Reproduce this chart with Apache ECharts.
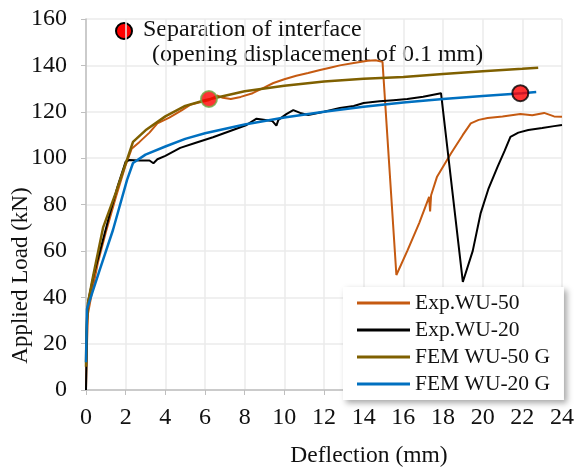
<!DOCTYPE html>
<html>
<head>
<meta charset="utf-8">
<script src="https://cdn.jsdelivr.net/npm/echarts@6/dist/echarts.min.js"></script>
<style>
  html, body { margin: 0; padding: 0; background: #fff; }
  #chart { width: 575px; height: 469px; }
</style>
</head>
<body>
<div id="chart"></div>
<script>
// Exp.WU-50 (orange)
var exp50X = [0, 0.05, 0.1, 0.3, 0.6, 1.0, 1.5, 2.0, 2.3, 2.7, 3.2, 3.6, 4.2, 4.8, 5.25, 5.7, 6.2, 6.6, 6.9, 7.3, 7.8, 8.4, 9.0, 9.45, 10.0, 10.6, 11.2, 11.8, 12.3, 12.8, 13.5, 14.2, 14.6, 14.95, 15.65, 16.2, 16.8, 17.3, 17.35, 17.4, 17.7, 18.4, 19.0, 19.4, 19.8, 20.25, 21.0, 21.9, 22.5, 23.1, 23.6, 24.0]
var exp50Y = [0, 20, 33, 42, 55, 68, 83, 97, 104, 107, 111, 115, 117.5, 120.5, 123, 124, 125, 127, 126, 125.5, 126.4, 128, 130.5, 132.4, 134, 135.5, 136.7, 138, 139, 140, 141, 142, 142.2, 141.5, 49.6, 60, 72, 83.3, 77, 84, 92, 102, 110, 115, 116.5, 117.3, 118, 119, 118.5, 119.5, 118, 117.8]
// Exp.WU-20 (black)
var exp20X = [0, 0.02, 0.05, 0.1, 0.4, 0.8, 1.2, 1.6, 2.0, 2.2, 2.7, 3.2, 3.4, 3.6, 4.0, 4.75, 5.5, 6.4, 7.2, 8.1, 8.6, 9.4, 9.6, 9.7, 10.1, 10.45, 10.8, 11.2, 12.0, 12.8, 13.5, 14.0, 14.8, 15.5, 16.2, 17.0, 17.9, 19.0, 19.5, 19.9, 20.3, 20.75, 21.1, 21.4, 21.8, 22.3, 23.0, 23.6, 24.0]
var exp20Y = [0, 10, 30, 38, 50, 63, 76, 88, 98.5, 99.2, 99, 99, 97.8, 99.5, 101, 104.4, 106.5, 109, 111.5, 114.3, 117, 116, 114, 116.5, 119, 120.7, 119.5, 118.6, 120, 121.6, 122.5, 123.8, 124.5, 125, 125.5, 126.5, 128, 46.6, 60, 76.3, 87, 96.2, 103, 109.2, 111, 112.1, 113, 113.8, 114.3]
// FEM WU-50 G (olive)
var fem50X = [0, 0.02, 0.1, 0.35, 0.86, 1.5, 2.37, 3, 4, 5, 6, 8, 10, 12, 14, 16, 18, 20, 22, 22.8]
var fem50Y = [10, 25, 37.5, 48.7, 70, 85, 107, 112, 118, 122.5, 125, 128.8, 131.2, 133, 134.2, 135, 136.3, 137.5, 138.5, 139]
// FEM WU-20 G (blue)
var fem20X = [0, 0.05, 0.7, 1.36, 2.07, 2.37, 3, 4, 5, 6, 8, 10, 12, 14, 16, 18, 20, 22, 22.7]
var fem20Y = [12, 35, 52, 69, 90.6, 97.9, 101.5, 105, 108.3, 110.7, 114.5, 117.5, 120, 122.2, 124, 125.5, 126.8, 128, 128.5]
// separation of interface points
var sepX = [6.2, 21.9]
var sepY = [125.5, 128]

var seriesNames = ['Exp.WU-50', 'Exp.WU-20', 'FEM WU-50 G', 'FEM WU-20 G']

function zip(xs, ys) {
  return xs.map(function (x, i) { return [x, ys[i]] })
}

var serif = '"Liberation Serif", "Times New Roman", serif'
var chart = echarts.init(document.getElementById('chart'))

chart.setOption({
  animation: false,
  textStyle: { fontFamily: serif },
  grid: { left: 86, right: 13, top: 19, bottom: 79, outerBoundsMode: 'none', containLabel: false },
  legend: {
    left: 343,
    top: 287,
    orient: 'vertical',
    width: 224,
    padding: [5, 14, 5, 14],
    itemWidth: 53,
    itemHeight: 3,
    itemGap: 5,
    backgroundColor: '#fff',
    shadowBlur: 6,
    shadowColor: 'rgba(0,0,0,0.35)',
    shadowOffsetX: 3,
    shadowOffsetY: 3,
    textStyle: { fontFamily: serif, fontSize: 21.5, color: '#111' },
    data: seriesNames.map(function (n) { return { name: n, icon: 'rect' } })
  },
  xAxis: {
    type: 'value',
    min: 0,
    max: 24,
    interval: 2,
    name: 'Deflection (mm)',
    nameLocation: 'middle',
    nameGap: 54,
    nameMoveOverlap: false,
    nameTextStyle: { fontFamily: serif, fontSize: 23.5, color: '#111', padding: [0, 0, 0, 90] },
    axisLine: { lineStyle: { color: '#bfbfbf', width: 1.5 } },
    axisTick: { show: true, length: 5, lineStyle: { color: '#bfbfbf' } },
    axisLabel: { fontFamily: serif, fontSize: 24, color: '#111', margin: 16 },
    splitLine: { show: true, lineStyle: { color: '#ebebeb', width: 1.5 } }
  },
  yAxis: {
    type: 'value',
    min: 0,
    max: 160,
    interval: 20,
    name: 'Applied Load (kN)',
    nameLocation: 'middle',
    nameGap: 54,
    nameMoveOverlap: false,
    nameTextStyle: { fontFamily: serif, fontSize: 23, color: '#111', padding: [0, 142, 0, 0] },
    axisLine: { show: true, lineStyle: { color: '#bfbfbf', width: 1.5 } },
    axisTick: { show: true, length: 5, lineStyle: { color: '#bfbfbf' } },
    axisLabel: { fontFamily: serif, fontSize: 24, color: '#111', margin: 19 },
    splitLine: { show: true, lineStyle: { color: '#ebebeb', width: 1.5 } }
  },
  graphic: [
    {
      type: 'circle',
      shape: { cx: 124, cy: 31, r: 8 },
      style: { fill: '#ff0000', stroke: '#000', lineWidth: 2 }
    },
    {
      type: 'text',
      left: 143,
      top: 18,
      style: { text: 'Separation of interface', font: '24px ' + serif, fill: '#111' }
    },
    {
      type: 'text',
      left: 152,
      top: 43,
      style: { text: '(opening displacement of 0.1 mm)', font: '24px ' + serif, fill: '#111' }
    }
  ],
  series: [
    {
      name: 'Exp.WU-50',
      type: 'line',
      data: zip(exp50X, exp50Y),
      showSymbol: false,
      color: '#c55a11',
      lineStyle: { width: 2 }
    },
    {
      name: 'Exp.WU-20',
      type: 'line',
      data: zip(exp20X, exp20Y),
      showSymbol: false,
      color: '#000000',
      lineStyle: { width: 2 }
    },
    {
      name: 'FEM WU-50 G',
      type: 'line',
      data: zip(fem50X, fem50Y),
      showSymbol: false,
      color: '#7f6000',
      lineStyle: { width: 2.5 }
    },
    {
      name: 'FEM WU-20 G',
      type: 'line',
      data: zip(fem20X, fem20Y),
      showSymbol: false,
      color: '#0070c0',
      lineStyle: { width: 2.5 }
    },
    {
      name: 'separation',
      type: 'scatter',
      symbolSize: 16,
      z: 5,
      data: [
        { value: [sepX[0], sepY[0]], itemStyle: { color: '#ff0000', borderColor: '#70ad47', borderWidth: 2 } },
        { value: [sepX[1], sepY[1]], itemStyle: { color: '#ff0000', borderColor: '#000', borderWidth: 2 } }
      ]
    }
  ]
})
</script>
</body>
</html>
